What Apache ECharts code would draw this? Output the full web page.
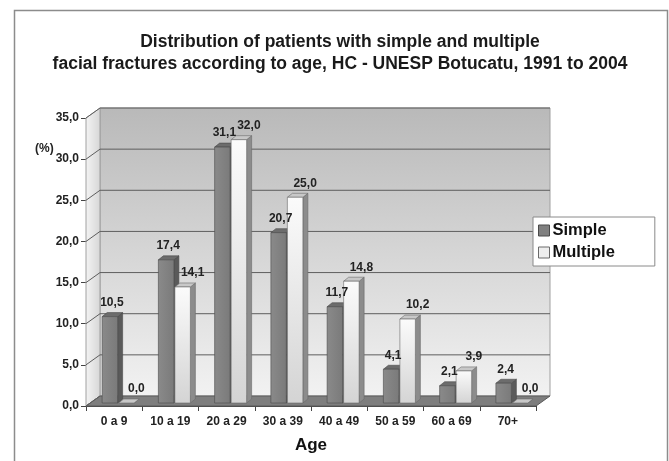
<!DOCTYPE html>
<html>
<head>
<meta charset="utf-8">
<script src="https://cdn.jsdelivr.net/npm/echarts@6/dist/echarts.min.js"></script>
<style>
html,body{margin:0;padding:0;background:#fff;}
#chart{width:669px;height:461px;}
</style>
</head>
<body>
<div id="chart"></div>
<script>
const categories = ['0 a 9','10 a 19','20 a 29','30 a 39','40 a 49','50 a 59','60 a 69','70+'];
const simpleValues = [10.5, 17.4, 31.1, 20.7, 11.7, 4.1, 2.1, 2.4];
const multipleValues = [0.0, 14.1, 32.0, 25.0, 14.8, 10.2, 3.9, 0.0];
const yTicks = [0, 5, 10, 15, 20, 25, 30, 35];
const titleLines = ['Distribution of patients with simple and multiple', 'facial fractures according to age, HC - UNESP Botucatu, 1991 to 2004'];

const FONT = '"Liberation Sans", Arial, sans-serif';
const DX = -14, DY = 10;       // depth of floor (back wall -> front axis)
const BX = -10, BY = 7;        // bar front plane offset from back wall
const SX = 5, SY = -4;         // bar depth
const BW = 15.5;               // bar width

const chart = echarts.init(document.getElementById('chart'));

function fmt(v){ return v.toFixed(1).replace('.', ','); }

function frameRender(params, api){
  const cs = params.coordSys;
  const x0 = cs.x, y0 = cs.y, w = cs.width, h = cs.height;
  const yb = y0 + h;
  const children = [];
  children.push({type:'rect', shape:{x:x0, y:y0, width:w, height:h},
    style:{fill:new echarts.graphic.LinearGradient(0,0,0,1,[{offset:0,color:'#b9b9b9'},{offset:1,color:'#f2f2f2'}]), stroke:'#a0a0a0', lineWidth:1}});
  children.push({type:'polygon', shape:{points:[[x0,y0],[x0,yb],[x0+DX,yb+DY],[x0+DX,y0+DY]]},
    style:{fill:new echarts.graphic.LinearGradient(0,0,1,0,[{offset:0,color:'#f4f4f4'},{offset:1,color:'#d6d6d6'}]), stroke:'#a0a0a0', lineWidth:1}});
  children.push({type:'polygon', shape:{points:[[x0,yb],[x0+w,yb],[x0+w+DX,yb+DY],[x0+DX,yb+DY]]},
    style:{fill:'#7e7e7e', stroke:'#5a5a5a', lineWidth:1}});
  yTicks.forEach(function(v){
    const y = api.coord([0, v])[1];
    if (v > 0) {
      children.push({type:'line', shape:{x1:x0, y1:y, x2:x0+w, y2:y}, style:{stroke:'#5e5e5e', lineWidth:1}});
    }
    children.push({type:'line', shape:{x1:x0, y1:y, x2:x0+DX, y2:y+DY}, style:{stroke:'#5e5e5e', lineWidth:1}});
  });
  return {type:'group', children:children};
}

function makeBarRender(which){
  return function(params, api){
    const idx = api.value(0), val = api.value(1);
    const p = api.coord([idx, val]);
    const b = api.coord([idx, 0]);
    const cx = p[0] + BX;
    let xl, xr;
    if (which === 0) { xl = cx - 0.5 - BW; xr = cx - 0.5; }
    else { xl = cx + 0.5; xr = cx + 0.5 + BW; }
    const yt = p[1] + BY, ybt = b[1] + BY;
    const c = which === 0
      ? {front:new echarts.graphic.LinearGradient(0,0,1,0,[{offset:0,color:'#8a8a8a'},{offset:1,color:'#7a7a7a'}]), side:'#5a5a5a', top:'#6c6c6c', stroke:'#4a4a4a'}
      : {front:new echarts.graphic.LinearGradient(0,0,0,1,[{offset:0,color:'#fbfbfb'},{offset:1,color:'#d4d4d4'}]), side:'#8c8c8c', top:'#c8c8c8', stroke:'#6a6a6a'};
    const ch = [];
    ch.push({type:'polygon', shape:{points:[[xr,yt],[xr+SX,yt+SY],[xr+SX,ybt+SY],[xr,ybt]]}, style:{fill:c.side, stroke:c.stroke, lineWidth:0.6}});
    ch.push({type:'polygon', shape:{points:[[xl,yt],[xl+SX,yt+SY],[xr+SX,yt+SY],[xr,yt]]}, style:{fill:c.top, stroke:c.stroke, lineWidth:0.6}});
    if (ybt - yt > 0.5) {
      ch.push({type:'rect', shape:{x:xl, y:yt, width:xr-xl, height:ybt-yt}, style:{fill:c.front, stroke:c.stroke, lineWidth:0.6}});
    }
    const lx = (xl + xr) / 2 + (which === 0 ? 2 : 10);
    ch.push({type:'text', style:{text:fmt(val), x:lx, y:yt - 14, align:'center', verticalAlign:'middle',
      font:'bold 12px ' + FONT, fill:'#222'}, z2:10});
    return {type:'group', children:ch};
  };
}

const option = {
  backgroundColor:'#fff',
  animation:false,
  title:{
    text: titleLines.join('\n'),
    left: 335, top: 26, textAlign:'center',
    textStyle:{fontFamily:FONT, fontSize:17.5, fontWeight:'bold', color:'#1a1a1a', lineHeight:22}
  },
  legend:{
    orient:'vertical', left:533, top:217,
    padding:[5,40,5,5], itemGap:5, itemWidth:11, itemHeight:11,
    backgroundColor:'#fff', borderColor:'#8a8a8a', borderWidth:1, borderRadius:0,
    textStyle:{fontFamily:FONT, fontSize:16.5, fontWeight:'bold', color:'#111', padding:[0,0,0,-2]},
    data:[
      {name:'Simple', icon:'rect', itemStyle:{color:'#808080', borderColor:'#4a4a4a', borderWidth:1}},
      {name:'Multiple', icon:'rect', itemStyle:{color:'#eeeeee', borderColor:'#6a6a6a', borderWidth:1}}
    ]
  },
  graphic:[
    {type:'rect', left:12, top:8, shape:{x:0, y:0, width:653, height:460}, style:{fill:'none', stroke:'#8c8c8c', lineWidth:1.5}, z:-1},
    {type:'text', left:35, top:143, style:{text:'(%)', font:'bold 12px ' + FONT, fill:'#222'}}
  ],
  grid:[
    {left:100, top:108, width:450, height:288},
    {left:86, top:118, width:450, height:288}
  ],
  xAxis:[
    {gridIndex:0, type:'category', data:categories, show:false},
    {gridIndex:1, type:'category', data:categories,
      axisLine:{show:true, lineStyle:{color:'#444', width:1}},
      axisTick:{show:true, length:5, interval:0, lineStyle:{color:'#444'}},
      axisLabel:{interval:0, margin:10, fontFamily:FONT, fontSize:12, fontWeight:'bold', color:'#222'},
      name:'Age', nameLocation:'middle', nameGap:31,
      nameTextStyle:{fontFamily:FONT, fontSize:17, fontWeight:'bold', color:'#111'},
      splitLine:{show:false}
    }
  ],
  yAxis:[
    {gridIndex:0, type:'value', min:0, max:35, interval:5, show:false, splitLine:{show:false}},
    {gridIndex:1, type:'value', min:0, max:35, interval:5,
      axisLine:{show:true, lineStyle:{color:'#444', width:1}},
      axisTick:{show:true, length:5, lineStyle:{color:'#444'}},
      axisLabel:{margin:7, formatter:function(v){return fmt(v);}, fontFamily:FONT, fontSize:12, fontWeight:'bold', color:'#222'},
      splitLine:{show:false}
    }
  ],
  series:[
    {type:'custom', name:'frame', xAxisIndex:0, yAxisIndex:0, data:[[0,0]], renderItem:frameRender, silent:true, clip:false, z:1},
    {type:'custom', name:'Simple', xAxisIndex:0, yAxisIndex:0, clip:false, z:3,
      itemStyle:{color:'#808080'},
      data: simpleValues.map(function(v,i){return [i,v];}), renderItem:makeBarRender(0)},
    {type:'custom', name:'Multiple', xAxisIndex:0, yAxisIndex:0, clip:false, z:3,
      itemStyle:{color:'#eeeeee'},
      data: multipleValues.map(function(v,i){return [i,v];}), renderItem:makeBarRender(1)}
  ]
};
chart.setOption(option);
</script>
</body>
</html>
